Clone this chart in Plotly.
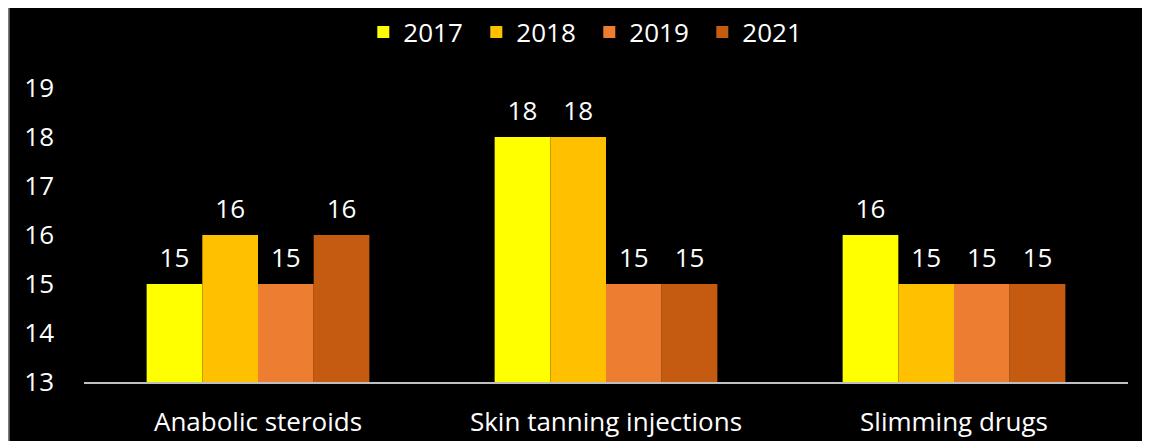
import plotly.graph_objects as go

categories = ["Anabolic steroids", "Skin tanning injections", "Slimming drugs"]
years = ["2017", "2018", "2019", "2021"]
values_2017 = [15, 18, 16]
values_2018 = [16, 18, 15]
values_2019 = [15, 15, 15]
values_2021 = [16, 15, 15]
series = [values_2017, values_2018, values_2019, values_2021]
colors = ["#FFFF00", "#FFC000", "#ED7D31", "#C55A11"]
y_ticks = [13, 14, 15, 16, 17, 18, 19]

FONT = "Open Sans, sans-serif"
FS = 26

fig = go.Figure()
for name, vals, col in zip(years, series, colors):
    fig.add_trace(go.Bar(
        name=name, x=categories, y=vals, marker_color=col,
        marker_line_width=0, offsetgroup=name,
    ))
for name, vals in zip(years, series):
    fig.add_trace(go.Scatter(
        x=categories, y=vals, mode="markers+text", offsetgroup=name,
        text=[str(v) for v in vals], textposition="top center",
        textfont=dict(color="white", size=FS, family=FONT),
        marker=dict(size=16, opacity=0), showlegend=False, hoverinfo="skip",
        cliponaxis=False,
    ))

fig.update_layout(
    width=1150, height=441,
    paper_bgcolor="black", plot_bgcolor="black",
    barmode="group", bargap=0.36, bargroupgap=0,
    scattermode="group", scattergap=0.36,
    margin=dict(l=76, r=30, t=80, b=67, autoexpand=False),
    font=dict(family=FONT, color="white", size=FS),
    showlegend=True,
    legend=dict(orientation="h", x=0.484, xanchor="center",
                yref="container", y=1 - 24 / 441, yanchor="middle",
                font=dict(size=FS, color="white", family=FONT),
                entrywidth=68, traceorder="normal", bgcolor="rgba(0,0,0,0)"),
    xaxis=dict(showgrid=False, showline=True, linecolor="#bfbfbf", linewidth=1.5,
               ticks="", ticklabelstandoff=16,
               tickfont=dict(size=FS, color="white", family=FONT)),
    yaxis=dict(range=[13, 19], tickvals=y_ticks, showgrid=False, zeroline=False,
               showline=False, ticks="", ticklabelstandoff=29,
               tickfont=dict(size=FS, color="white", family=FONT)),
    shapes=[
        dict(type="line", xref="paper", yref="paper", x0=-76 / 1044 + 0.0008, x1=-76 / 1044 + 0.0008,
             y0=-0.3, y1=1.4, line=dict(color="#888888", width=1.5), layer="above"),
    ],
)

fig.write_html("out.html")
